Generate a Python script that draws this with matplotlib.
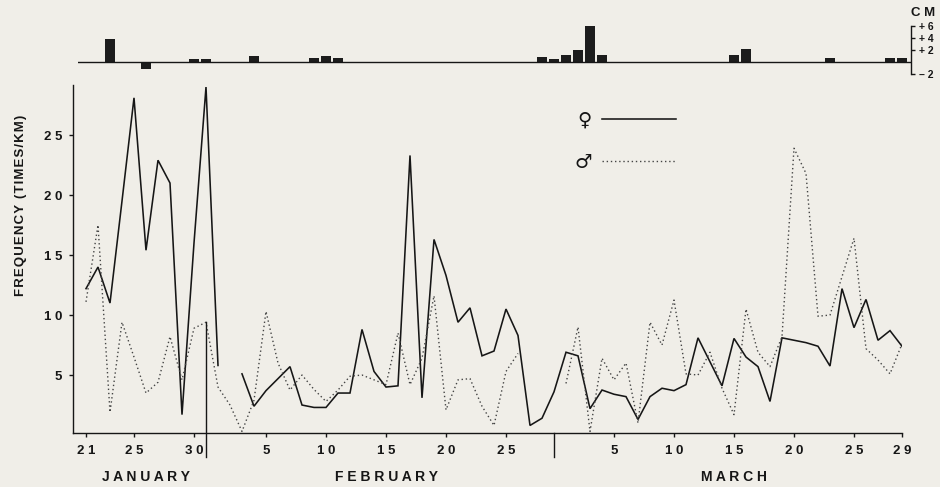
import numpy as np
import matplotlib
matplotlib.use("Agg")
import matplotlib.pyplot as plt
from matplotlib.lines import Line2D

# ---------------- data ----------------
# day index 0 = 21 January ... 68 = 29 March (1980, leap year)
female = [12.2, 14.0, 11.0, 19.5, 28.1, 15.4, 22.9, 21.0, 1.7, 16.0,
          29.0, 5.8, np.nan, 5.1, 2.4, 3.7, 4.7, 5.7, 2.5, 2.3,
          2.3, 3.5, 3.5, 8.8, 5.3, 4.0, 4.1, 23.3, 3.1, 16.3,
          13.3, 9.4, 10.6, 6.6, 7.0, 10.5, 8.3, 0.8, 1.4, 3.6,
          6.9, 6.6, 2.2, 3.75, 3.4, 3.2, 1.3, 3.2, 3.9, 3.7,
          4.2, 8.1, 6.1, 4.1, 8.05, 6.5, 5.7, 2.8, 8.1, 7.9,
          7.7, 7.4, 5.75, 12.2, 8.95, 11.3, 7.9, 8.7, 7.4]
male = [11.1, 17.5, 1.9, 9.4, 6.5, 3.5, 4.4, 8.2, 4.6, 8.9,
        9.4, 4.0, 2.5, 0.3, 2.9, 10.3, 6.0, 3.75, 5.0, 3.8,
        2.8, 3.75, 4.9, 5.0, 4.6, 4.2, 8.5, 4.2, 6.4, 11.6,
        2.1, 4.6, 4.7, 2.4, 0.8, 5.3, 6.8, np.nan, np.nan, np.nan,
        4.3, 9.0, 0.3, 6.4, 4.6, 6.0, 1.0, 9.4, 7.5, 11.25,
        5.1, 5.0, 6.9, 3.9, 1.7, 10.5, 6.9, 5.7, 8.2, 23.9,
        21.8, 9.9, 10.0, 13.2, 16.4, 7.2, 6.25, 5.1, 7.6]
days = np.arange(len(female))

precip_days = [2, 5, 9, 10, 14, 19, 20, 21, 38, 39, 40, 41, 42, 43, 54, 55, 62, 67, 68]
precip_cm = [3.9, -1.2, 0.55, 0.55, 1.0, 0.7, 1.05, 0.7, 0.9, 0.55, 1.1, 2.0, 6.0, 1.2,
             1.1, 2.2, 0.6, 0.6, 0.6]

tick_days = [0, 4, 9, 15, 20, 25, 30, 35, 44, 49, 54, 59, 64, 68]
tick_labels = ["21", "25", "30", "5", "10", "15", "20", "25", "5", "10", "15", "20", "25", "29"]
months = ["JANUARY", "FEBRUARY", "MARCH"]
month_first = [0, 11, 40]
month_last = [10, 39, 68]
yticks = [5, 10, 15, 20, 25]
scale_ticks = [-2, 2, 4, 6]
scale_labels = ["\u2013 2", "+ 2", "+ 4", "+ 6"]

# ---------------- style ----------------
BG = "#f0eee8"
INK = "#161616"
FONT = ["Liberation Sans", "DejaVu Sans"]
plt.rcParams["font.family"] = FONT
plt.rcParams["font.weight"] = "bold"

W, H = 940, 487
fig = plt.figure(figsize=(W / 100, H / 100), dpi=100, facecolor=BG)

def spaced(s, sep=" "):
    return sep.join(list(s))

# main axes (12 px per day, day 0 at x=86 px)
ax = fig.add_axes([73 / W, 1 - 433 / H, (902 - 73) / W, (433 - 85) / H])
ax.set_facecolor(BG)
ax.set_xlim(-13 / 12, 68)
ax.set_ylim(0.17, 29.17)

ax.plot(days, female, color=INK, lw=1.15, solid_joinstyle="miter")
ax.plot(days, male, color="#444444", lw=1.0, linestyle=(0, (1, 2)))

for s in ["top", "right"]:
    ax.spines[s].set_visible(False)
for s in ["left", "bottom"]:
    ax.spines[s].set_color(INK)
    ax.spines[s].set_linewidth(1.0)

ax.set_xticks(tick_days)
ax.set_xticklabels([spaced(t) for t in tick_labels])
ax.set_yticks(yticks)
ax.set_yticklabels([spaced(str(t)) for t in yticks])
ax.tick_params(axis="x", direction="out", length=3, width=1, labelsize=9.5, pad=6, colors=INK)
ax.tick_params(axis="y", direction="out", length=3, width=1, labelsize=9.5, pad=5, colors=INK)

# month dividers below the axis
ax.plot([month_last[0]] * 2, [male[month_last[0]], -1.85], color=INK, lw=1.0, clip_on=False)
ax.plot([month_last[1]] * 2, [0.17, -1.85], color=INK, lw=1.0, clip_on=False)

# month names
trans = matplotlib.transforms.blended_transform_factory(ax.transData, ax.transAxes)
for name, a, b in zip(months, month_first, month_last):
    ax.text((a + b) / 2, -0.126, spaced(name), transform=trans, ha="center", va="center",
            fontsize=10, fontweight="bold", color=INK)

# legend (symbol on the left of the line)
handles = [Line2D([], [], color=INK, lw=1.15),
           Line2D([], [], color="#444444", lw=1.0, linestyle=(0, (1, 2)))]
leg = ax.legend(handles, ["\u2640", "\u2642"], loc="upper left",
                bbox_to_anchor=((574 - 73) / 829, (433 - 111) / 348),
                markerfirst=False, frameon=False, borderpad=0, borderaxespad=0,
                handlelength=3.8, handletextpad=0.55, labelspacing=1.17,
                prop={"family": ["DejaVu Sans"], "size": 14, "weight": "bold"})
for t in leg.get_texts():
    t.set_color(INK)

# y label
fig.text(21 / W, 1 - 205 / H, spaced("FREQUENCY (TIMES/KM)", "\u200a"), rotation=90,
         ha="center", va="center", fontsize=9.5, fontweight="bold", color=INK)

# ---------------- precipitation panel ----------------
tax = fig.add_axes([78 / W, 1 - 75 / H, (911 - 78) / W, (75 - 20) / H])
tax.set_facecolor("none")
tax.set_xlim((78 - 86) / 12, (911 - 86) / 12)
tax.set_ylim(-13 / 6, 42 / 6)
tax.axhline(0, color=INK, lw=1.0)
tax.bar(precip_days, precip_cm, width=0.82, color="#1c1c1c")
for s in ["top", "left", "bottom"]:
    tax.spines[s].set_visible(False)
tax.spines["right"].set_bounds(-2, 6)
tax.spines["right"].set_color(INK)
tax.spines["right"].set_linewidth(1.0)
tax.set_xticks([])
tax.yaxis.tick_right()
tax.set_yticks(scale_ticks)
tax.set_yticklabels(scale_labels)
tax.tick_params(axis="y", direction="out", length=3, width=1, labelsize=7.5, pad=2.5, colors=INK)
fig.text(923 / W, 1 - 13.5 / H, "C M", ha="center", va="center", fontsize=9.5,
         fontweight="bold", color=INK)

fig.savefig("out.png", dpi=100, facecolor=BG)
